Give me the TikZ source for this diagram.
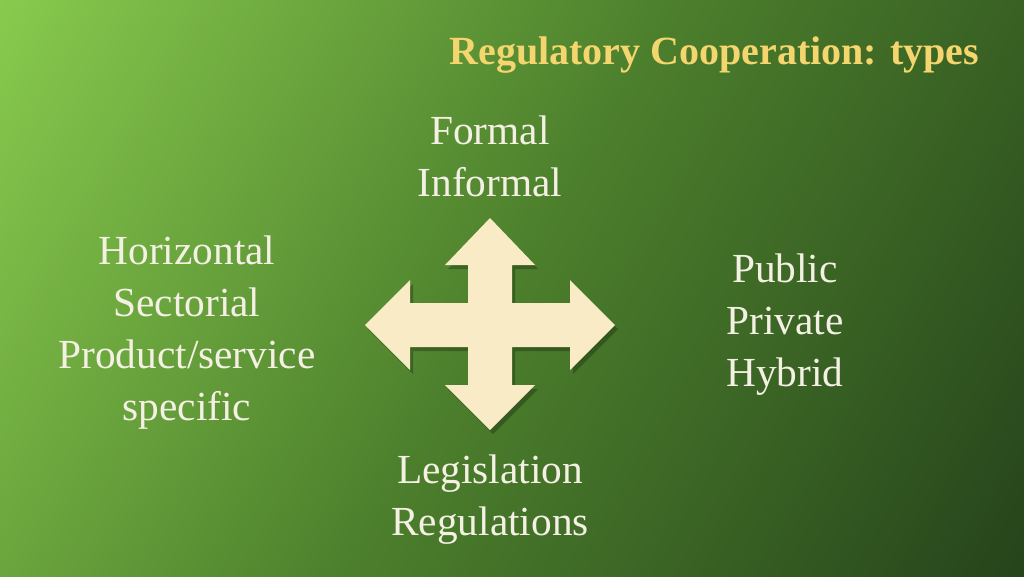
\documentclass[tikz,border=0pt]{standalone}
\usepackage{fontspec}
\setmainfont{Liberation Serif}
\definecolor{bgA}{HTML}{8CCF50}
\definecolor{bgB}{HTML}{4C7F2C}
\definecolor{bgC}{HTML}{23401A}
\definecolor{titlec}{HTML}{F5D56E}
\definecolor{txt}{HTML}{F4F1E4}
\definecolor{arrowc}{HTML}{F8EBC6}
\tikzset{lbl/.style={text=txt,font=\fontsize{31}{39}\selectfont,align=center}}
\begin{document}
\begin{tikzpicture}[x=0.75pt,y=-0.75pt]
\useasboundingbox (0,0) rectangle (1024,576);
\shade[shading=axis,left color=bgA,right color=bgC,middle color=bgB,shading angle=60] (-200,-200) rectangle (1224,776);
\node[anchor=east,text=titlec,font=\fontsize{30}{34}\selectfont\bfseries] (title) at (984,55) {Regulatory Cooperation: types};
\node[lbl] (top) at (490,156) {Formal\\Informal};
\node[lbl] (left) at (187,333) {Horizontal\\Sectorial\\Product/service\\specific};
\node[lbl] (right) at (785,325) {Public\\Private\\Hybrid};
\node[lbl] (bot) at (490,500) {Legislation\\Regulations};
\coordinate (c) at (490,325);
\begin{scope}[shift={(c)}]
\fill[black,opacity=0.25,shift={(3,4)}] (-22,-22) -- (-22,-60) -- (-45,-60) -- (0,-107) -- (45,-60) -- (22,-60) -- (22,-22)
 -- (80,-22) -- (80,-45) -- (125,0) -- (80,45) -- (80,22) -- (22,22)
 -- (22,60) -- (45,60) -- (0,105) -- (-45,60) -- (-22,60) -- (-22,22)
 -- (-80,22) -- (-80,45) -- (-125,0) -- (-80,-45) -- (-80,-22) -- cycle;
\fill[arrowc] (-22,-22) -- (-22,-60) -- (-45,-60) -- (0,-107) -- (45,-60) -- (22,-60) -- (22,-22)
 -- (80,-22) -- (80,-45) -- (125,0) -- (80,45) -- (80,22) -- (22,22)
 -- (22,60) -- (45,60) -- (0,105) -- (-45,60) -- (-22,60) -- (-22,22)
 -- (-80,22) -- (-80,45) -- (-125,0) -- (-80,-45) -- (-80,-22) -- cycle;
\end{scope}
\end{tikzpicture}
\end{document}
